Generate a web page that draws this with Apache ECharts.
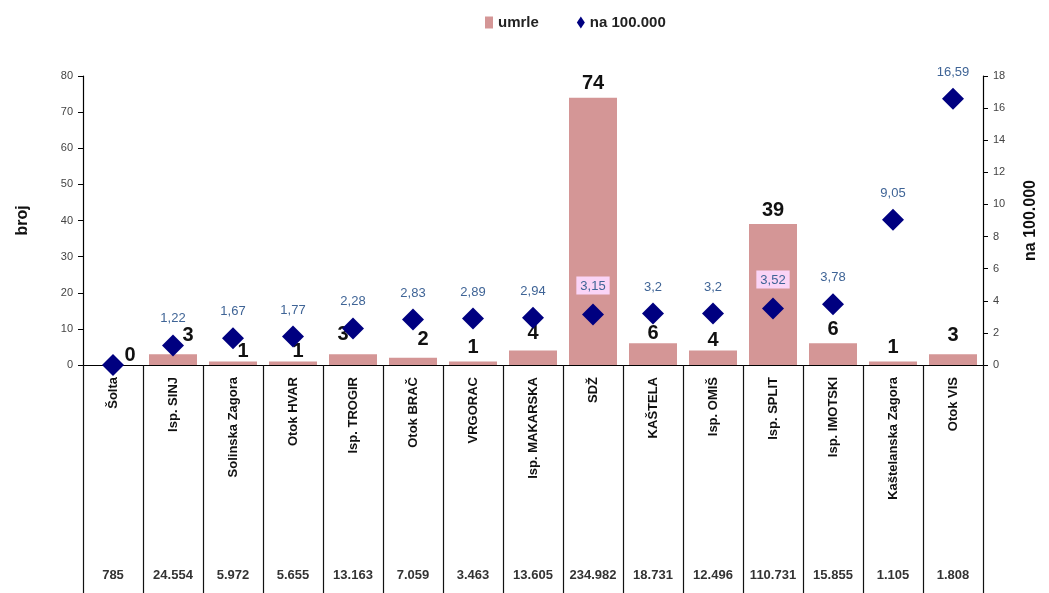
<!DOCTYPE html>
<html><head><meta charset="utf-8">
<script src="https://cdn.jsdelivr.net/npm/echarts@6/dist/echarts.min.js"></script>
<style>html,body{margin:0;padding:0;background:#fff}#c{width:1049px;height:593px}</style>
</head><body><div id="c"></div>
<script>
var categories = ['Šolta','Isp. SINJ','Solinska Zagora','Otok HVAR','Isp. TROGIR','Otok BRAČ','VRGORAC','Isp. MAKARSKA','SDŽ','KAŠTELA','Isp. OMIŠ','Isp. SPLIT','Isp. IMOTSKI','Kaštelanska Zagora','Otok VIS'];
var umrle = [0,3,1,1,3,2,1,4,74,6,4,39,6,1,3];
var na100000 = [0,1.22,1.67,1.77,2.28,2.83,2.89,2.94,3.15,3.2,3.2,3.52,3.78,9.05,16.59];
var populacija = ['785','24.554','5.972','5.655','13.163','7.059','3.463','13.605','234.982','18.731','12.496','110.731','15.855','1.105','1.808'];
var leftTicks = [0,80,10];
var rightTicks = [0,18,2];

// styling: per-item label nudges [dx, dy] for bar labels (avoid overlapping diamonds)
var barLabelNudge = [[17,4],[15,-5],[10,4],[5,4],[-10,-6],[10,-4],[0,0],[0,-3],[0,0],[0,4],[0,4],[0,0],[0,0],[0,0],[0,-5]];
var pinkBg = {8:true, 11:true};

var FONT = '"Liberation Sans", Arial, sans-serif';
var chart = echarts.init(document.getElementById('c'));

var barData = umrle.map(function(v,i){
  return {value:v, label:{offset:barLabelNudge[i]}};
});
var lineData = na100000.map(function(v,i){
  var d = {value:v};
  if (i===0) d.label = {show:false};
  if (pinkBg[i]) d.label = {backgroundColor:'#FAD4F6', padding:[3,4,2,4]};
  return d;
});

chart.setOption({
  animation:false,
  textStyle:{fontFamily:FONT},
  legend:{
    top:10, left:480, itemGap:38, itemWidth:8, itemHeight:12,
    textStyle:{fontFamily:FONT, fontWeight:'bold', fontSize:15, color:'#222'},
    data:[{name:'umrle', icon:'rect'},{name:'na 100.000', icon:'diamond'}]
  },
  grid:{left:83, right:66, top:76, bottom:228},
  xAxis:[{
    type:'category', data:categories, position:'bottom',
    axisLine:{lineStyle:{color:'#000', width:1.2}},
    axisTick:{show:true, length:230, alignWithLabel:false, lineStyle:{color:'#111', width:1.2}},
    axisLabel:{rotate:90, margin:12, interval:0, fontFamily:FONT, fontWeight:'bold', fontSize:13, color:'#111'}
  },{
    type:'category', data:populacija, position:'bottom', offset:204,
    axisLine:{show:false}, axisTick:{show:false},
    axisLabel:{interval:0, margin:0, fontFamily:FONT, fontWeight:'bold', fontSize:13, color:'#333'}
  }],
  yAxis:[{
    type:'value', min:leftTicks[0], max:leftTicks[1], interval:leftTicks[2],
    name:'broj', nameLocation:'middle', nameGap:52, nameRotate:90,
    nameTextStyle:{fontFamily:FONT, fontWeight:'bold', fontSize:16, color:'#111'},
    axisLine:{show:true, lineStyle:{color:'#000', width:1.2}},
    axisTick:{show:true, length:5, lineStyle:{color:'#000'}},
    axisLabel:{fontFamily:FONT, fontSize:11, color:'#444', margin:10},
    splitLine:{show:false}
  },{
    type:'value', min:rightTicks[0], max:rightTicks[1], interval:rightTicks[2], position:'right',
    name:'na 100.000', nameLocation:'middle', nameGap:40, nameRotate:90,
    nameTextStyle:{fontFamily:FONT, fontWeight:'bold', fontSize:16, color:'#111'},
    axisLine:{show:true, lineStyle:{color:'#000', width:1.2}},
    axisTick:{show:true, length:5, lineStyle:{color:'#000'}},
    axisLabel:{fontFamily:FONT, fontSize:11, color:'#444', margin:10},
    splitLine:{show:false}
  }],
  series:[{
    name:'umrle', type:'bar', xAxisIndex:0, yAxisIndex:0, data:barData,
    barWidth:48, itemStyle:{color:'#D49696'},
    label:{show:true, position:'top', distance:4, fontFamily:FONT, fontWeight:'bold', fontSize:20, color:'#111'},
    z:2
  },{
    name:'na 100.000', type:'line', xAxisIndex:0, yAxisIndex:1, data:lineData,
    lineStyle:{width:0, opacity:0}, symbol:'diamond', symbolSize:[22,22],
    itemStyle:{color:'#000080'},
    label:{show:true, position:'top', distance:9, fontFamily:FONT, fontSize:13, color:'#3F6496',
      formatter:function(p){return String(p.value).replace('.',',');}},
    z:3
  }]
});
</script></body></html>
